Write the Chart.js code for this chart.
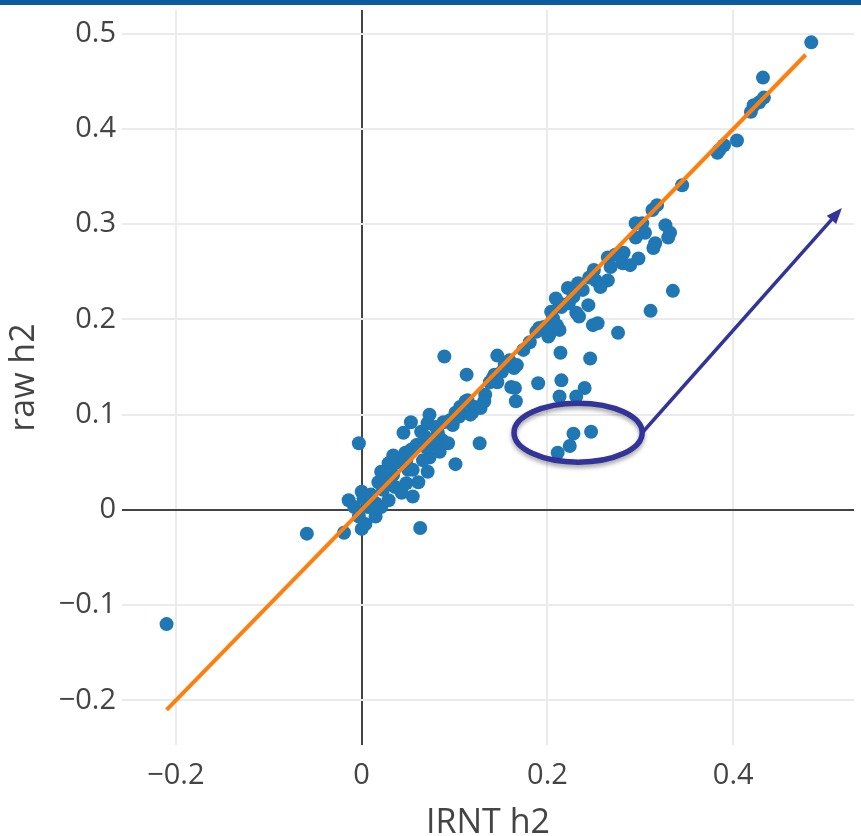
<!DOCTYPE html>
<html>
<head>
<meta charset="utf-8">
<script src="https://cdn.jsdelivr.net/npm/chart.js@4.4.0/dist/chart.umd.min.js"></script>
<style>
  html, body { margin: 0; padding: 0; background: #fff; }
  #wrap { position: absolute; left: 0; top: 0; width: 861px; height: 836px; }
  #topbar { position: absolute; left: 0; top: 0; width: 861px; height: 5px; background: #0b5c9e; }
</style>
</head>
<body>
<div id="wrap"><canvas id="h2-scatter" width="861" height="836"></canvas></div>
<div id="topbar"></div>
<script>
// heritability estimates, one entry per phenotype
const irntH2 = [
  -0.210, -0.059, -0.019, -0.003, 0.000, 0.063, -0.014, 0.000, -0.003, 0.004,
  0.007, 0.015, 0.015, 0.021, 0.029, 0.018, 0.026, 0.036, 0.043, 0.055,
  0.048, 0.061, 0.029, 0.039, 0.048, 0.047, 0.053, 0.071, 0.073, 0.045,
  0.053, 0.064, 0.073, 0.068, 0.082, 0.087, 0.093, 0.071, 0.101, 0.089,
  0.113, 0.101, 0.106, 0.114, 0.119, 0.122, 0.128, 0.127, 0.138, 0.143,
  0.146, 0.146, 0.154, 0.159, 0.161, 0.165, 0.166, 0.164, 0.167, 0.174,
  0.188, 0.190, 0.196, 0.201, 0.206, 0.210, 0.213, 0.215, 0.191, 0.199,
  0.202, 0.207, 0.214, 0.215, 0.213, 0.204, 0.213, 0.223, 0.231, 0.234,
  0.244, 0.222, 0.233, 0.238, 0.228, 0.250, 0.245, 0.252, 0.265, 0.257,
  0.249, 0.254, 0.276, 0.265, 0.273, 0.282, 0.281, 0.289, 0.298, 0.268,
  0.295, 0.302, 0.295, 0.305, 0.313, 0.318, 0.327, 0.332, 0.330, 0.316,
  0.314, 0.311, 0.335, 0.345, 0.383, 0.385, 0.390, 0.404, 0.419, 0.422,
  0.428, 0.433, 0.432, 0.484, 0.231, 0.240, 0.246, 0.211, 0.224, 0.228,
  0.247, 0.079, 0.066, 0.055, 0.034, 0.023, 0.010, 0.088, 0.098, 0.084,
  0.061, 0.050, 0.181, 0.133, 0.151, 0.034, 0.059, 0.069, 0.080, 0.095,
  0.105, 0.112, 0.132, 0.117, 0.021, 0.010, -0.008, 0.002, 0.141, 0.209
];
const rawH2 = [
  -0.120, -0.025, -0.024, 0.070, -0.020, -0.019, 0.010, 0.019, -0.007, -0.015,
  0.003, 0.007, -0.007, 0.003, 0.010, 0.029, 0.029, 0.024, 0.018, 0.014,
  0.028, 0.029, 0.049, 0.050, 0.052, 0.060, 0.063, 0.040, 0.055, 0.081,
  0.092, 0.082, 0.100, 0.077, 0.081, 0.073, 0.070, 0.091, 0.048, 0.161,
  0.142, 0.102, 0.108, 0.115, 0.102, 0.108, 0.107, 0.070, 0.134, 0.142,
  0.134, 0.162, 0.152, 0.157, 0.129, 0.128, 0.114, 0.149, 0.152, 0.168,
  0.187, 0.133, 0.192, 0.182, 0.201, 0.194, 0.189, 0.213, 0.191, 0.192,
  0.184, 0.191, 0.165, 0.136, 0.119, 0.208, 0.217, 0.217, 0.207, 0.203,
  0.215, 0.233, 0.238, 0.231, 0.224, 0.252, 0.244, 0.241, 0.241, 0.234,
  0.194, 0.196, 0.186, 0.265, 0.268, 0.270, 0.259, 0.257, 0.264, 0.255,
  0.301, 0.301, 0.286, 0.291, 0.315, 0.320, 0.299, 0.291, 0.286, 0.280,
  0.275, 0.209, 0.230, 0.341, 0.375, 0.378, 0.383, 0.388, 0.418, 0.425,
  0.428, 0.433, 0.454, 0.491, 0.119, 0.128, 0.159, 0.060, 0.067, 0.080,
  0.082, 0.068, 0.052, 0.042, 0.037, 0.021, 0.016, 0.092, 0.089, 0.061,
  0.068, 0.042, 0.176, 0.121, 0.145, 0.057, 0.068, 0.066, 0.087, 0.094,
  0.098, 0.114, 0.114, 0.100, 0.040, 0.004, 0.003, 0.012, 0.138, 0.222
];

// identity line ends
const fitX = [-0.21, 0.478];
const fitY = [-0.21, 0.478];

const xTicks = [-0.2, 0, 0.2, 0.4];
const yTicks = [-0.2, -0.1, 0, 0.1, 0.2, 0.3, 0.4, 0.5];
const xTitle = 'IRNT h2';
const yTitle = 'raw h2';

const fmtTick = (v) => {
  if (v === 0) return '0';
  return v < 0 ? '\u2212' + Math.abs(v) : String(v);
};

// hand-drawn callout: ellipse round the low group + arrow off to the right
const calloutPlugin = {
  id: 'callout',
  afterDatasetsDraw(chart) {
    const { ctx, scales } = chart;
    const x = scales.x, y = scales.y;
    const cx = x.getPixelForValue(0.233);
    const cy = y.getPixelForValue(0.081);
    const rx = x.getPixelForValue(0.233 + 0.069) - cx;
    const ry = cy - y.getPixelForValue(0.081 + 0.031);

    ctx.save();
    ctx.strokeStyle = '#33349a';
    ctx.fillStyle = '#33349a';
    ctx.shadowColor = 'rgba(0,0,0,0.35)';
    ctx.shadowBlur = 4;
    ctx.shadowOffsetY = 3;
    ctx.lineWidth = 5.5;
    ctx.beginPath();
    ctx.ellipse(cx, cy, rx, ry, 0, 0, Math.PI * 2);
    ctx.stroke();

    ctx.shadowColor = 'transparent';
    const x0 = cx + rx, y0 = cy;
    const x1 = x.getPixelForValue(0.517), y1 = y.getPixelForValue(0.317);
    const ang = Math.atan2(y1 - y0, x1 - x0);
    const head = 17;
    ctx.lineWidth = 3.5;
    ctx.beginPath();
    ctx.moveTo(x0, y0);
    ctx.lineTo(x1 - Math.cos(ang) * head * 0.8, y1 - Math.sin(ang) * head * 0.8);
    ctx.stroke();
    ctx.beginPath();
    ctx.moveTo(x1, y1);
    ctx.lineTo(x1 - head * Math.cos(ang - 0.38), y1 - head * Math.sin(ang - 0.38));
    ctx.lineTo(x1 - head * Math.cos(ang + 0.38), y1 - head * Math.sin(ang + 0.38));
    ctx.closePath();
    ctx.fill();
    ctx.restore();
  }
};

const gridColor = (c) => c.tick && c.tick.value === 0 ? '#444' : '#ebebeb';

new Chart(document.getElementById('h2-scatter'), {
  type: 'scatter',
  data: {
    datasets: [
      {
        label: 'fit',
        type: 'line',
        data: fitX.map((v, i) => ({ x: v, y: fitY[i] })),
        borderColor: '#ff7f0e',
        borderWidth: 4,
        pointRadius: 0,
        showLine: true,
        fill: false,
        order: 0
      },
      {
        label: 'phenotypes',
        data: irntH2.map((v, i) => ({ x: v, y: rawH2[i] })),
        backgroundColor: '#1f77b4',
        borderWidth: 0,
        pointRadius: 7,
        pointHoverRadius: 7,
        order: 1
      }
    ]
  },
  options: {
    responsive: false,
    animation: false,
    layout: { padding: { top: 10, right: 0, bottom: 0, left: 0 } },
    plugins: { legend: { display: false }, tooltip: { enabled: false } },
    scales: {
      x: {
        type: 'linear',
        min: -0.258,
        max: 0.530,
        afterBuildTicks: (s) => { s.ticks = xTicks.map(v => ({ value: v })); },
        afterFit: (s) => { s.height = 91; s.paddingLeft = 0; s.paddingRight = 0; },
        border: { display: false },
        grid: { drawTicks: false, color: gridColor, lineWidth: 2 },
        ticks: {
          padding: 13,
          color: '#444',
          font: { family: 'Open Sans', size: 29 },
          callback: fmtTick
        },
        title: {
          display: true,
          text: xTitle,
          color: '#444',
          font: { family: 'Open Sans', size: 34 },
          padding: { top: 0, bottom: -8 }
        }
      },
      y: {
        type: 'linear',
        min: -0.247,
        max: 0.525,
        afterBuildTicks: (s) => { s.ticks = yTicks.map(v => ({ value: v })); },
        afterFit: (s) => { s.width = 122; s.paddingTop = 0; s.paddingBottom = 0; },
        border: { display: false },
        grid: { drawTicks: false, color: gridColor, lineWidth: 2 },
        ticks: {
          padding: 6,
          color: '#444',
          font: { family: 'Open Sans', size: 29 },
          callback: fmtTick
        },
        title: {
          display: true,
          text: yTitle,
          color: '#444',
          font: { family: 'Open Sans', size: 34 },
          padding: { top: 4, bottom: 0 }
        }
      }
    }
  },
  plugins: [calloutPlugin]
});
</script>
</body>
</html>
